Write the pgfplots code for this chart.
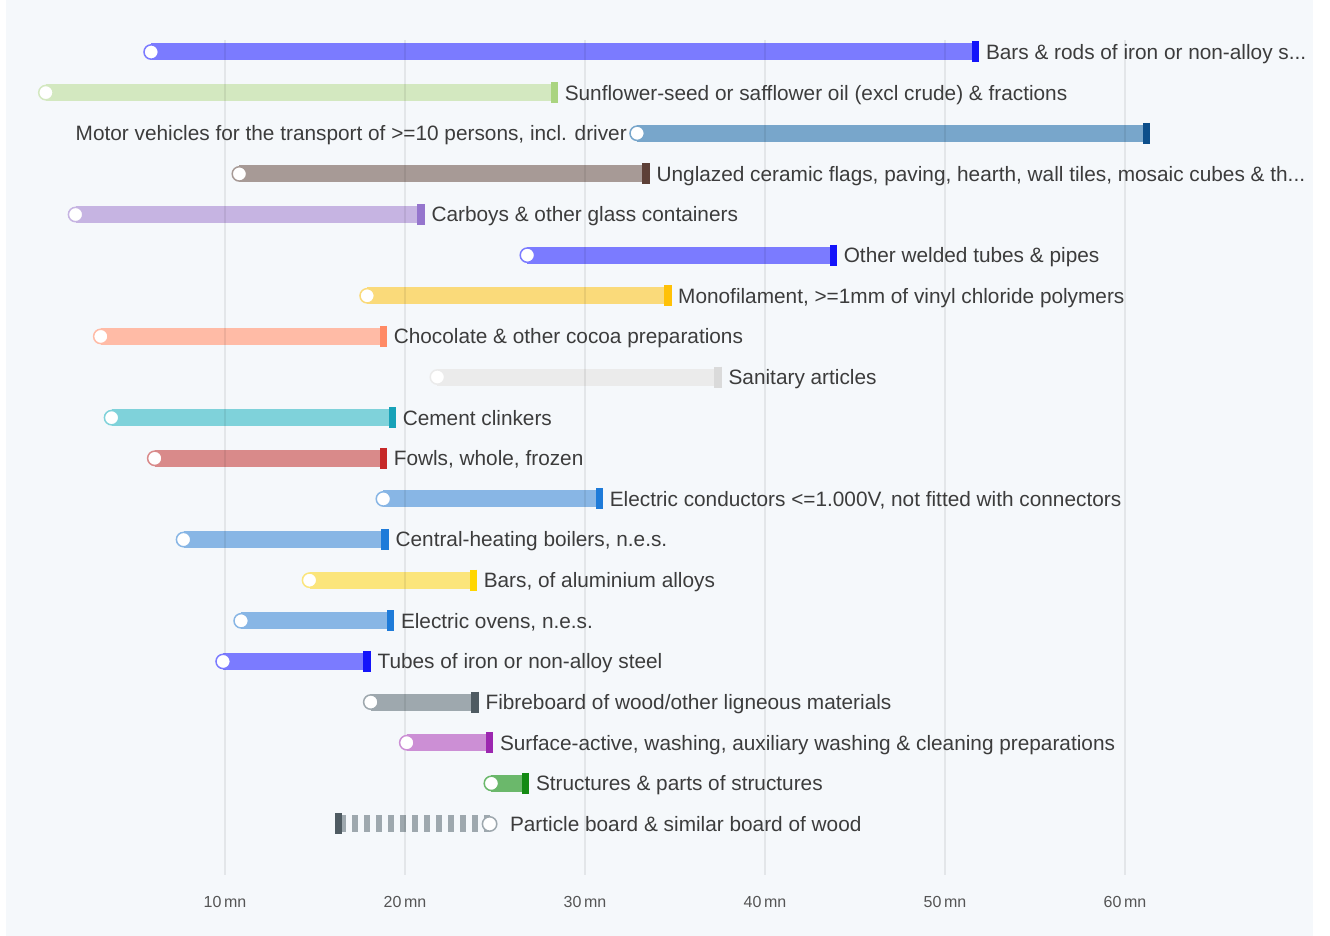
\documentclass[border=0pt]{standalone}
\usepackage{pgfplots}
\pgfplotsset{compat=1.18}
\usepackage{fontspec}
\setmainfont{Liberation Sans}
\definecolor{bg}{RGB}{245,248,251}
\definecolor{txt}{RGB}{60,60,60}
\definecolor{tlab}{RGB}{85,85,85}
\definecolor{purB}{RGB}{123,123,255}\definecolor{purT}{RGB}{20,20,250}
\definecolor{grnB}{RGB}{211,232,192}\definecolor{grnT}{RGB}{170,212,128}
\definecolor{stlB}{RGB}{120,166,203}\definecolor{stlT}{RGB}{13,79,139}
\definecolor{brnB}{RGB}{167,154,150}\definecolor{brnT}{RGB}{93,64,55}
\definecolor{lavB}{RGB}{198,180,226}\definecolor{lavT}{RGB}{149,117,205}
\definecolor{yelB}{RGB}{250,218,122}\definecolor{yelT}{RGB}{255,193,7}
\definecolor{salB}{RGB}{255,187,166}\definecolor{salT}{RGB}{255,138,101}
\definecolor{gryB}{RGB}{235,235,235}\definecolor{gryT}{RGB}{218,218,218}
\definecolor{cyaB}{RGB}{127,210,218}\definecolor{cyaT}{RGB}{23,162,184}
\definecolor{redB}{RGB}{217,138,138}\definecolor{redT}{RGB}{198,40,40}
\definecolor{bluB}{RGB}{136,182,229}\definecolor{bluT}{RGB}{30,123,217}
\definecolor{ylwB}{RGB}{251,229,123}\definecolor{ylwT}{RGB}{255,214,0}
\definecolor{slaB}{RGB}{158,168,174}\definecolor{slaT}{RGB}{79,91,98}
\definecolor{vioB}{RGB}{204,143,213}\definecolor{vioT}{RGB}{156,39,176}
\definecolor{dgrB}{RGB}{107,184,107}\definecolor{dgrT}{RGB}{19,138,19}
% row macro: #1 row y, #2 start, #3 end, #4 bar colour, #5 tick colour
\newcommand{\drow}[5]{%
  \addplot[#4, line width=8.5pt, line cap=butt] coordinates {(#2,#1) (#3,#1)};
  \addplot[only marks, mark=|, mark size=5.25pt, mark options={#5, line width=3.75pt}] coordinates {(#3,#1)};
  \addplot[only marks, mark=*, mark size=3.6pt, mark options={fill=white, draw=#4, line width=0.75pt}] coordinates {(#2,#1)};
}
\begin{document}
\begin{tikzpicture}
\begin{axis}[
  width=665pt, height=468pt, scale only axis,
  xmin=-2.5, xmax=71.389, ymin=-22.757, ymax=0.28,
  clip=false,
  axis line style={draw=none},
  ytick=\empty, xtick=\empty,
]
\fill[bg] (axis cs:-2.167,-22.757) rectangle (axis cs:70.444,0.28);
\foreach \g in {10,20,30,40,50,60}{
  \edef\tmp{\noexpand\node[font=\noexpand\fontsize{8}{9}\noexpand\selectfont, text=tlab, inner sep=0pt] at (axis cs:\g,-21.92) {\g\noexpand\,mn};}\tmp
}
\drow{-1}{5.9}{51.7}{purB}{purT}
\drow{-2}{0.05}{28.3}{grnB}{grnT}
\drow{-3}{32.9}{61.2}{stlB}{stlT}
\drow{-4}{10.8}{33.4}{brnB}{brnT}
\drow{-5}{1.7}{20.9}{lavB}{lavT}
\drow{-6}{26.8}{43.8}{purB}{purT}
\drow{-7}{17.9}{34.6}{yelB}{yelT}
\drow{-8}{3.1}{18.8}{salB}{salT}
\drow{-9}{21.8}{37.4}{gryB}{gryT}
\drow{-10}{3.7}{19.3}{cyaB}{cyaT}
\drow{-11}{6.1}{18.8}{redB}{redT}
\drow{-12}{18.8}{30.8}{bluB}{bluT}
\drow{-13}{7.7}{18.9}{bluB}{bluT}
\drow{-14}{14.7}{23.8}{ylwB}{ylwT}
\drow{-15}{10.9}{19.2}{bluB}{bluT}
\drow{-16}{9.9}{17.9}{purB}{purT}
\drow{-17}{18.1}{23.9}{slaB}{slaT}
\drow{-18}{20.1}{24.7}{vioB}{vioT}
\drow{-19}{24.8}{26.7}{dgrB}{dgrT}
% dashed row (decrease)
\addplot[slaB, line width=8.5pt, line cap=butt, dash pattern=on 2.8pt off 3.2pt] coordinates {(24.7,-20) (16.3,-20)};
\addplot[only marks, mark=|, mark size=5.25pt, mark options={slaT, line width=3.75pt}] coordinates {(16.3,-20)};
\addplot[only marks, mark=*, mark size=3.6pt, mark options={fill=white, draw=slaB, line width=0.75pt}] coordinates {(24.7,-20)};
% faint grid lines, visible through the bars
\foreach \g in {10,20,30,40,50,60}{
  \edef\tmp{\noexpand\draw[black, line width=0.6pt, opacity=0.07] (axis cs:\g,-21.26) -- (axis cs:\g,-0.705);}\tmp
}
\begin{scope}[every node/.style={font=\fontsize{10.4}{12}\selectfont, text=txt, inner sep=0pt, yshift=-3.7pt}]
\node[anchor=base west, xshift=5pt] at (axis cs:51.7,-1) {Bars \& rods of iron or non-alloy s...};
\node[anchor=base west, xshift=5pt] at (axis cs:28.3,-2) {Sunflower-seed or safflower oil (excl crude) \& fractions};
\node[anchor=base east, xshift=-5pt] at (axis cs:32.9,-3) {Motor vehicles for the transport of >=10 persons, incl. driver};
\node[anchor=base west, xshift=5pt] at (axis cs:33.4,-4) {Unglazed ceramic flags, paving, hearth, wall tiles, mosaic cubes \& th...};
\node[anchor=base west, xshift=5pt] at (axis cs:20.9,-5) {Carboys \& other glass containers};
\node[anchor=base west, xshift=5pt] at (axis cs:43.8,-6) {Other welded tubes \& pipes};
\node[anchor=base west, xshift=5pt] at (axis cs:34.6,-7) {Monofilament, >=1mm of vinyl chloride polymers};
\node[anchor=base west, xshift=5pt] at (axis cs:18.8,-8) {Chocolate \& other cocoa preparations};
\node[anchor=base west, xshift=5pt] at (axis cs:37.4,-9) {Sanitary articles};
\node[anchor=base west, xshift=5pt] at (axis cs:19.3,-10) {Cement clinkers};
\node[anchor=base west, xshift=5pt] at (axis cs:18.8,-11) {Fowls, whole, frozen};
\node[anchor=base west, xshift=5pt] at (axis cs:30.8,-12) {Electric conductors <=1.000V, not fitted with connectors};
\node[anchor=base west, xshift=5pt] at (axis cs:18.9,-13) {Central-heating boilers, n.e.s.};
\node[anchor=base west, xshift=5pt] at (axis cs:23.8,-14) {Bars, of aluminium alloys};
\node[anchor=base west, xshift=5pt] at (axis cs:19.2,-15) {Electric ovens, n.e.s.};
\node[anchor=base west, xshift=5pt] at (axis cs:17.9,-16) {Tubes of iron or non-alloy steel};
\node[anchor=base west, xshift=5pt] at (axis cs:23.9,-17) {Fibreboard of wood/other ligneous materials};
\node[anchor=base west, xshift=5pt] at (axis cs:24.7,-18) {Surface-active, washing, auxiliary washing \& cleaning preparations};
\node[anchor=base west, xshift=5pt] at (axis cs:26.7,-19) {Structures \& parts of structures};
\node[anchor=base west, xshift=10pt] at (axis cs:24.7,-20) {Particle board \& similar board of wood};
\end{scope}
\end{axis}
\end{tikzpicture}
\end{document}
